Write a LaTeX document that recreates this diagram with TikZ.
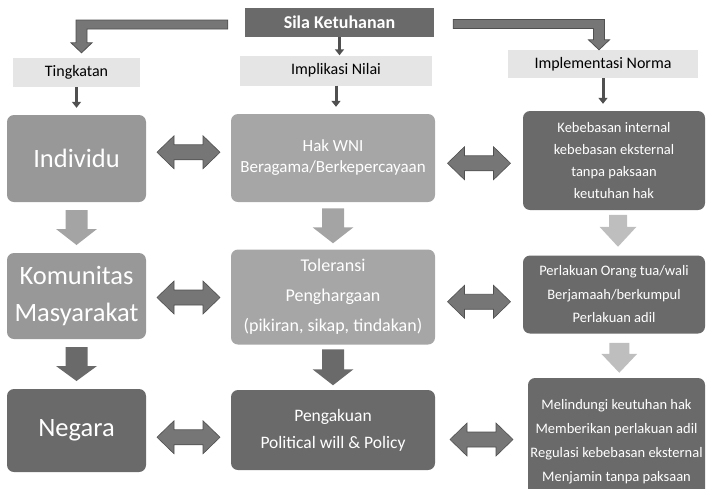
\documentclass[tikz,border=0pt]{standalone}
\usepackage{fontspec}
\setmainfont{Carlito}
\usetikzlibrary{arrows.meta}
\usetikzlibrary{calc}
\definecolor{darkbox}{RGB}{106,106,106}
\definecolor{midbox}{RGB}{152,152,152}
\definecolor{lightbox}{RGB}{166,166,166}
\definecolor{labelbox}{RGB}{229,229,229}
\definecolor{arrowline}{RGB}{80,80,80}
\definecolor{arrowfill}{RGB}{118,118,118}
\definecolor{fatlight}{RGB}{164,164,164}
\definecolor{fatpale}{RGB}{190,190,190}
\def\boxround{7pt}
% block arrow pointing down: position, length, head length, shaft width, head width, colour
\newcommand{\downblock}[6]{
	\begin{scope}[shift={#1}]
	\fill [#6] (-#4/2,-#2/2) -- (#4/2,-#2/2) -- (#4/2,#2/2-#3) -- (#5/2,#2/2-#3)
		-- (0,#2/2) -- (-#5/2,#2/2-#3) -- (-#4/2,#2/2-#3) -- cycle;
	\end{scope}}
% block arrow pointing both ways
\newcommand{\bothblock}[1]{
	\begin{scope}[shift={#1}]
	\draw [draw=arrowline,fill=arrowfill,line width=0.6pt]
		(-31.5,0) -- (-14.5,-16.5) -- (-14.5,-7.5) -- (14.5,-7.5) -- (14.5,-16.5)
		-- (31.5,0) -- (14.5,16.5) -- (14.5,7.5) -- (-14.5,7.5) -- (-14.5,16.5) -- cycle;
	\end{scope}}
\tikzset{
  labelnode/.style={fill=labelbox,font={\fontsize{16}{18}\selectfont},inner sep=0pt},
  card/.style={rounded corners=\boxround,text=white,align=center,inner sep=0pt},
  bigtext/.style={font={\fontsize{26.5}{37}\selectfont}},
  midtext/.style={font={\fontsize{17}{21}\selectfont}},
  smalltext/.style={font={\fontsize{14.5}{22}\selectfont}},
  thinarrow/.style={draw=arrowline,line width=3pt,-{Triangle[length=6pt,width=9pt]}},
  bentarrow/.style={draw=arrowline,fill=arrowfill,line width=0.8pt}
}
\begin{document}
\begin{tikzpicture}[x=1pt,y=-1pt]
\useasboundingbox (0,0) rectangle (706,488);
\clip (0,0) rectangle (706,488);
% headers
\node [card,rounded corners=0pt,fill=darkbox,minimum width=189pt,minimum height=29pt,
  font={\fontsize{18}{20}\selectfont\bfseries}] (sila) at (339.5,22.5) {Sila Ketuhanan};
\node [labelnode,minimum width=127pt,minimum height=29pt] (tingkatan) at (76.5,72.5) {Tingkatan};
\node [labelnode,minimum width=192pt,minimum height=30pt] (implikasi) at (336,70.5) {Implikasi Nilai};
\node [labelnode,minimum width=190pt,minimum height=28pt] (norma) at (603,64) {Implementasi Norma};
% first row
\node [card,bigtext,fill=midbox,minimum width=139pt,minimum height=87pt] (individu) at (76.5,158.5) {Individu};
\node [card,midtext,fill=lightbox,minimum width=204pt,minimum height=88pt] (hak) at (333,158)
  {Hak WNI\\Beragama/Berkepercayaan};
\node [card,smalltext,fill=darkbox,minimum width=182pt,minimum height=99pt] (kebebasan) at (614,160.5)
  {Kebebasan internal\\kebebasan eksternal\\tanpa paksaan\\keutuhan hak};
% second row
\node [card,bigtext,fill=midbox,minimum width=139pt,minimum height=86pt] (komunitas) at (76.5,296)
  {Komunitas\\Masyarakat};
\node [card,fill=lightbox,minimum width=204pt,minimum height=95pt,font={\fontsize{18}{30}\selectfont}]
  (toleransi) at (333,297) {Toleransi\\Penghargaan\\(pikiran, sikap, tindakan)};
\node [card,smalltext,fill=darkbox,minimum width=182pt,minimum height=78pt,
  font={\fontsize{14.5}{23.5}\selectfont}] (perlakuan) at (614,294.5)
  {Perlakuan Orang tua/wali\\Berjamaah/berkumpul\\Perlakuan adil};
% third row
\node [card,bigtext,fill=darkbox,minimum width=139pt,minimum height=83pt] (negara) at (76.5,430.5) {Negara};
\node [card,fill=darkbox,minimum width=204pt,minimum height=80pt,font={\fontsize{17.5}{27}\selectfont}]
  (pengakuan) at (333,430) {Pengakuan\\Political will \& Policy};
\node [card,fill=darkbox,minimum width=177pt,minimum height=118pt] (melindungi) at (616.5,437) {};
\node [text=white,align=center,font={\fontsize{14.5}{24}\selectfont}] (melindungitext) at (616.5,442)
  {Melindungi keutuhan hak\\Memberikan perlakuan adil\\Regulasi kebebasan eksternal\\Menjamin tanpa paksaan};
% bent arrows from the top
\path (sila.west) ++(-17,2) coordinate (lstart);
\path (tingkatan.north) ++(5,-5) coordinate (ltip);
\draw [bentarrow] ($(lstart)+(0,-4.5)$) -| ($(ltip)+(-5.5,-10)$) -- ++(-5,0) -- (ltip)
  -- ++(10.5,-10) -- ++(-5,0) |- ($(lstart)+(0,4.5)$) -- cycle;
\path (sila.east) ++(19,1.5) coordinate (rstart);
\path (norma.north) ++(-4,0) coordinate (rtip);
\draw [bentarrow] ($(rstart)+(0,-4.5)$) -| ($(rtip)+(5.5,-10)$) -- ++(5,0) -- (rtip)
  -- ++(-10.5,-10) -- ++(5,0) |- ($(rstart)+(0,4.5)$) -- cycle;
% thin arrows
\draw [thinarrow] (sila.south) -- (sila.south |- implikasi.north);
\draw [thinarrow,shorten >=7pt] (tingkatan.south) -- (individu.north);
\draw [thinarrow,shorten >=7pt] (implikasi.south) -- (implikasi.south |- hak.north);
\draw [thinarrow,shorten >=7pt] (norma.south) -- (norma.south |- kebebasan.north);
% downward block arrows
\downblock {($(individu.south)!0.5!(komunitas.north)$)} {35} {16} {22} {41} {fatlight}
\downblock {($(hak.south)!0.5!(toleransi.north)$)} {35} {16} {22} {41} {fatlight}
\downblock {($(kebebasan.south)!0.5!(perlakuan.north)+(4,-2)$)} {32} {20} {18} {37} {fatpale}
\downblock {($(komunitas.south)!0.5!(negara.north)$)} {34} {15} {22} {41} {darkbox}
\downblock {($(toleransi.south)!0.5!(pengakuan.north)$)} {36} {16} {22} {41} {darkbox}
\downblock {($(perlakuan.south)!0.5!(melindungi.north)+(4,2)$)} {30} {19} {20} {36} {fatpale}
% two way arrows
\bothblock {($(individu.east)!0.5!(hak.west)+(0,-6)$)}
\bothblock {($(hak.east)!0.5!(kebebasan.west)+(0,4)$)}
\bothblock {($(komunitas.east)!0.5!(toleransi.west)+(0,1)$)}
\bothblock {($(toleransi.east)!0.5!(perlakuan.west)+(0,6)$)}
\bothblock {($(negara.east)!0.5!(pengakuan.west)+(0,7)$)}
\bothblock {($(pengakuan.east)!0.5!(melindungi.west)+(0,6)$)}
\end{tikzpicture}
\end{document}
